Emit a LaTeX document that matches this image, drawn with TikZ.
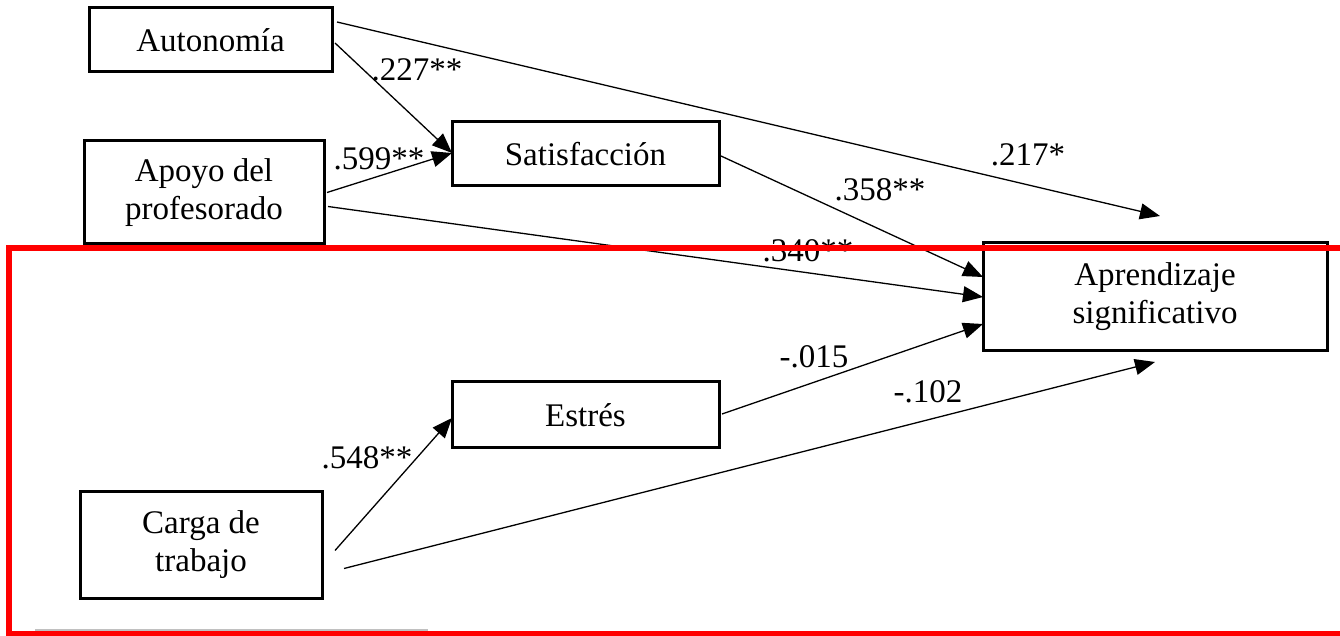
\documentclass[tikz,border=0pt]{standalone}
\usepackage{fontspec}
\setmainfont{Liberation Serif}
\usetikzlibrary{arrows.meta,calc}
\begin{document}
\begin{tikzpicture}[x=0.5pt,y=-0.5pt,
  box/.style={draw, line width=1.5pt, inner sep=0pt, outer sep=0pt, align=center,
    font=\fontsize{16.5}{19}\selectfont},
  lbl/.style={inner sep=0pt, font=\fontsize{16.5}{19}\selectfont},
  conn/.style={line width=0.65pt, -{Triangle[length=10pt,width=8pt]}}]
\useasboundingbox (0,0) rectangle (1340,636);
\clip (0,0) rectangle (1340,636);
% boxes
\node[box, minimum width=121.5pt, minimum height=32pt] (aut) at (210.5,40) {Autonomía};
\node[box, minimum width=120pt, minimum height=51.5pt] (apo) at (204,192.5) {Apoyo del\\profesorado};
\node[box, minimum width=133.5pt, minimum height=32pt] (sat) at (585.5,154) {Satisfacción};
\node[box, minimum width=172pt, minimum height=54pt] (apr) at (1155,297) {Aprendizaje\\significativo};
\node[box, minimum width=133.5pt, minimum height=33pt] (est) at (585.5,415) {Estrés};
\node[box, minimum width=121pt, minimum height=53.5pt] (car) at (201,544.5) {Carga de\\trabajo};
% free ends
\coordinate (endA) at (1160,216);
\coordinate (endC) at (1155,362);
% connectors
\draw[conn] ($(aut.east)+(3,3)$) -- ($(sat.west)+(0,-1)$);
\draw[conn] ($(apo.east)+(3,0)$) -- ($(sat.west)+(0,-1)$);
\draw[conn] ($(aut.east)+(5,-18)$) -- (endA);
\draw[conn] ($(apo.east)+(4,14)$) -- (apr.west);
\draw[conn] ($(sat.east)+(2,2)$) -- ($(apr.west)+(0,-20)$);
\draw[conn] ($(est.east)+(3,-1)$) -- ($(apr.west)+(0,27)$);
\draw[conn] ($(car.east)+(13,6)$) -- ($(est.west)+(0,3)$);
\draw[conn] ($(car.east)+(22,24)$) -- (endC);
% labels
\node[lbl] (l1) at (417,70) {.227**};
\node[lbl] (l2) at (379,159) {.599**};
\node[lbl] (l3) at (1028,155) {.217*};
\node[lbl] (l4) at (880,190) {.358**};
\node[lbl] (l5) at (808,251) {.340**};
\node[lbl] (l6) at (814,357) {-.015};
\node[lbl] (l7) at (928,392) {-.102};
\node[lbl] (l8) at (367,458) {.548**};
% separator and red frame
\draw[line width=0.6pt, color={rgb,255:red,192;green,192;blue,192}] (35,630) -- (428,630);
\draw[line width=3pt, red] (9,248) rectangle (1350,634);
\end{tikzpicture}
\end{document}
